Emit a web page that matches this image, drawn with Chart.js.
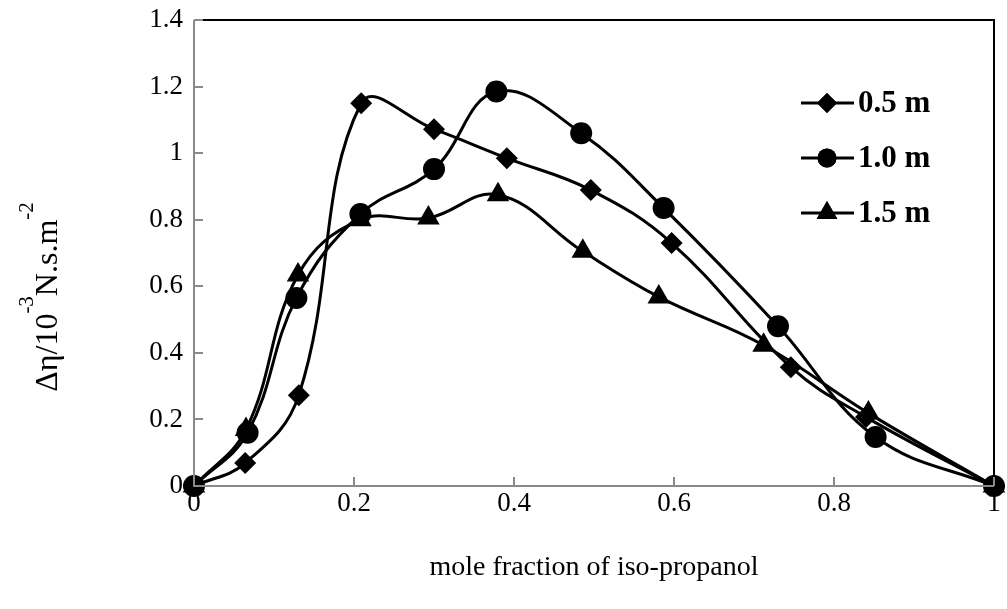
<!DOCTYPE html>
<html>
<head>
<meta charset="utf-8">
<script src="https://cdn.jsdelivr.net/npm/chart.js@4.4.0/dist/chart.umd.min.js"></script>
<style>
  html, body { margin: 0; padding: 0; background: #fff; }
  #wrap { width: 1007px; height: 609px; }
</style>
</head>
<body>
<div id="wrap"><canvas id="chart" width="1007" height="609"></canvas></div>
<script>
// data
const seriesNames = ["0.5 m", "1.0 m", "1.5 m"];
const x05 = [0, 0.064, 0.131, 0.209, 0.300, 0.391, 0.496, 0.597, 0.746, 0.840, 1];
const y05 = [0, 0.069, 0.273, 1.150, 1.072, 0.985, 0.889, 0.730, 0.357, 0.207, 0];
const x10 = [0, 0.067, 0.128, 0.208, 0.300, 0.378, 0.484, 0.587, 0.730, 0.852, 1];
const y10 = [0, 0.160, 0.565, 0.817, 0.952, 1.185, 1.060, 0.835, 0.480, 0.147, 0];
const x15 = [0, 0.065, 0.130, 0.208, 0.293, 0.380, 0.486, 0.581, 0.712, 0.843, 1];
const y15 = [0, 0.170, 0.634, 0.800, 0.805, 0.875, 0.705, 0.568, 0.423, 0.219, 0];
const xTicks = [0, 0.2, 0.4, 0.6, 0.8, 1];
const yTicks = [0, 0.2, 0.4, 0.6, 0.8, 1, 1.2, 1.4];

const FONT = "'Liberation Serif', 'Times New Roman', serif";
const pts = (xs, ys) => xs.map((x, i) => ({ x: x, y: ys[i] }));

const styles = [
  { pointStyle: "rectRot", radius: 11, legendRadius: 10 },
  { pointStyle: "circle", radius: 11, legendRadius: 9.5 },
  { pointStyle: "triangle", radius: 13, legendRadius: 12 }
];
const seriesData = [pts(x05, y05), pts(x10, y10), pts(x15, y15)];

// axes box, inward ticks, y title and legend
const decor = {
  id: "decor",
  afterDraw(chart) {
    const ctx = chart.ctx;
    const a = chart.chartArea;
    const xs = chart.scales.x, ys = chart.scales.y;
    ctx.save();
    // black frame on top and right
    ctx.strokeStyle = "#000";
    ctx.lineWidth = 2;
    ctx.beginPath();
    ctx.moveTo(a.left, a.top);
    ctx.lineTo(a.right, a.top);
    ctx.lineTo(a.right, a.bottom);
    ctx.stroke();
    // gray axes
    ctx.strokeStyle = "#8a8a8a";
    ctx.beginPath();
    ctx.moveTo(a.left, a.top);
    ctx.lineTo(a.left, a.bottom);
    ctx.lineTo(a.right, a.bottom);
    ctx.stroke();
    // inward ticks
    ctx.beginPath();
    yTicks.forEach(v => {
      const py = Math.round(ys.getPixelForValue(v));
      ctx.moveTo(a.left, py); ctx.lineTo(a.left + 9, py);
    });
    xTicks.forEach(v => {
      const px = Math.round(xs.getPixelForValue(v));
      ctx.moveTo(px, a.bottom); ctx.lineTo(px, a.bottom - 9);
    });
    ctx.stroke();

    // y title with superscripts
    const parts = [
      { t: "\u0394\u03b7/10", sup: false },
      { t: "-3", sup: true },
      { t: "N.s.m", sup: false },
      { t: "-2", sup: true }
    ];
    const big = "32px " + FONT, small = "21px " + FONT;
    let total = 0;
    parts.forEach(p => { ctx.font = p.sup ? small : big; p.w = ctx.measureText(p.t).width; total += p.w; });
    ctx.translate(57, 297);
    ctx.rotate(-Math.PI / 2);
    ctx.fillStyle = "#000";
    ctx.textBaseline = "alphabetic";
    ctx.textAlign = "left";
    let cx = -total / 2;
    parts.forEach(p => {
      ctx.font = p.sup ? small : big;
      ctx.fillText(p.t, cx, p.sup ? -24 : 0);
      cx += p.w;
    });
    ctx.setTransform(1, 0, 0, 1, 0, 0);

    // legend
    chart.data.datasets.forEach((ds, i) => {
      const ly = 103 + 55 * i;
      ctx.strokeStyle = "#000";
      ctx.lineWidth = 3;
      ctx.beginPath();
      ctx.moveTo(801, ly); ctx.lineTo(854, ly);
      ctx.stroke();
      ctx.fillStyle = "#000";
      Chart.helpers.drawPoint(ctx, { pointStyle: styles[i].pointStyle, radius: styles[i].legendRadius, borderWidth: 0, rotation: 0 }, 827, ly);
      ctx.fill();
      ctx.font = "bold 31px " + FONT;
      ctx.textBaseline = "middle";
      ctx.textAlign = "left";
      ctx.fillText(ds.label, 858, ly + 1);
    });
    ctx.restore();
  }
};

new Chart(document.getElementById("chart"), {
  type: "scatter",
  data: {
    datasets: seriesNames.map((name, i) => ({
      label: name,
      data: seriesData[i],
      showLine: true,
      borderColor: "#000",
      backgroundColor: "#000",
      borderWidth: 3,
      tension: 0.4,
      pointStyle: styles[i].pointStyle,
      pointRadius: styles[i].radius,
      pointHoverRadius: styles[i].radius,
      pointBorderWidth: 0,
      clip: false
    }))
  },
  options: {
    responsive: false,
    animation: false,
    layout: { padding: { top: 20, right: 9, left: 0, bottom: 0 } },
    plugins: { legend: { display: false }, tooltip: { enabled: false } },
    scales: {
      x: {
        type: "linear",
        min: 0, max: 1,
        afterBuildTicks: s => { s.ticks = xTicks.map(v => ({ value: v })); },
        afterFit: s => { s.height = 123; s.paddingLeft = 0; s.paddingRight = 0; },
        grid: { display: false, drawTicks: false },
        border: { display: false },
        ticks: {
          color: "#000", padding: 2,
          font: { family: FONT, size: 27 },
          callback: v => String(Math.round(v * 10) / 10)
        },
        title: {
          display: true,
          text: "mole fraction of iso-propanol",
          color: "#000",
          font: { family: FONT, size: 28 },
          padding: { top: 0, bottom: 25 }
        }
      },
      y: {
        type: "linear",
        min: 0, max: 1.4,
        afterBuildTicks: s => { s.ticks = yTicks.map(v => ({ value: v })); },
        afterFit: s => { s.width = 194; s.paddingTop = 0; s.paddingBottom = 0; },
        grid: { display: false, drawTicks: false },
        border: { display: false },
        ticks: {
          color: "#000", padding: 11,
          font: { family: FONT, size: 27 },
          callback: v => String(Math.round(v * 10) / 10)
        }
      }
    }
  },
  plugins: [decor]
});
</script>
</body>
</html>
